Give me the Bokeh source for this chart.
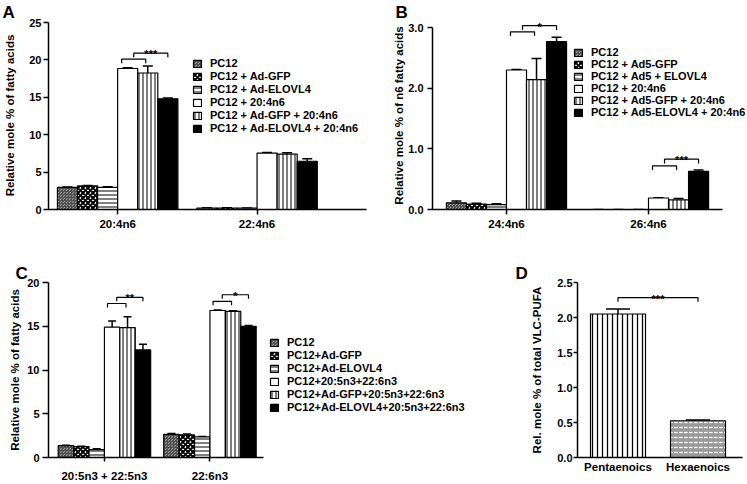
from bokeh.plotting import figure
from bokeh.layouts import column, row
from bokeh.models import (Range1d, FixedTicker, NumeralTickFormatter, Whisker, TeeHead,
                          ColumnDataSource)
from bokeh.core.properties import value
from bokeh.embed import file_html
from bokeh.resources import INLINE

FONT = "Liberation Sans"

# ---------------- data ----------------
A_groups = ["20:4n6", "22:4n6"]
A_labels = ["PC12", "PC12 + Ad-GFP", "PC12 + Ad-ELOVL4", "PC12 + 20:4n6",
            "PC12 + Ad-GFP + 20:4n6", "PC12 + Ad-ELOVL4 + 20:4n6"]
A_vals = [[2.95, 0.20], [3.15, 0.20], [2.95, 0.18], [18.85, 7.55], [18.25, 7.40], [14.80, 6.45]]
A_errs = [[0.05, 0.02], [0.05, 0.02], [0.10, 0.02], [0.10, 0.08], [0.95, 0.20], [0.10, 0.35]]
A_yticks = [0, 5, 10, 15, 20, 25]
A_sig = [(0, 20.1, 20.9, "***")]

B_groups = ["24:4n6", "26:4n6"]
B_labels = ["PC12", "PC12 + Ad5-GFP", "PC12 + Ad5 + ELOVL4", "PC12 + 20:4n6",
            "PC12 + Ad5-GFP + 20:4n6", "PC12 + Ad5-ELOVL4 + 20:4n6"]
B_vals = [[0.11, 0.0], [0.09, 0.0], [0.08, 0.0], [2.30, 0.19], [2.14, 0.16], [2.77, 0.63]]
B_errs = [[0.03, 0.0], [0.015, 0.0], [0.015, 0.0], [0.01, 0.005], [0.35, 0.02], [0.07, 0.02]]
B_yticks = [0.0, 1.0, 2.0, 3.0]
B_sig = [(0, 2.93, 3.03, "*"), (1, 0.72, 0.83, "***")]

C_groups = ["20:5n3 + 22:5n3", "22:6n3"]
C_labels = ["PC12", "PC12+Ad-GFP", "PC12+Ad-ELOVL4", "PC12+20:5n3+22:6n3",
            "PC12+Ad-GFP+20:5n3+22:6n3", "PC12+Ad-ELOVL4+20:5n3+22:6n3"]
C_vals = [[1.35, 2.65], [1.25, 2.60], [0.90, 2.35], [14.90, 16.80], [14.85, 16.70], [12.30, 15.00]]
C_errs = [[0.05, 0.10], [0.05, 0.08], [0.10, 0.06], [0.70, 0.06], [1.25, 0.06], [0.65, 0.08]]
C_yticks = [0, 5, 10, 15, 20]
C_sig = [(0, 17.6, 18.3, "**"), (1, 17.85, 18.6, "*")]

D_groups = ["Pentaenoics", "Hexaenoics"]
D_vals = [2.05, 0.525]
D_errs = [0.07, 0.012]
D_yticks = [0.0, 0.5, 1.0, 1.5, 2.0, 2.5]
D_sig = (2.285, "***")

# ---------------- styles ----------------
STYLES = [
    dict(fill_color="#a0a0a0", hatch_pattern="criss_cross", hatch_color="#505050", hatch_scale=3, hatch_weight=1),
    dict(fill_color="white", hatch_pattern="diagonal_cross", hatch_color="black", hatch_scale=5, hatch_weight=2),
    dict(fill_color="white", hatch_pattern="horizontal_line", hatch_color="black", hatch_scale=4, hatch_weight=1),
    dict(fill_color="white"),
    dict(fill_color="white", hatch_pattern="vertical_line", hatch_color="black", hatch_scale=4, hatch_weight=1),
    dict(fill_color="black"),
]


def make_fig(width, height, xr, yr, l, r, t, b, letter, letter_offset):
    p = figure(width=width, height=height, x_range=Range1d(*xr), y_range=Range1d(*yr),
               output_backend="svg", toolbar_location=None,
               min_border_left=l, min_border_right=r, min_border_top=t, min_border_bottom=b)
    p.xgrid.visible = False
    p.ygrid.visible = False
    p.outline_line_color = None
    p.title.text = letter
    p.title.text_font = FONT
    p.title.text_font_size = "17px"
    p.title.text_font_style = "bold"
    p.title.text_color = "black"
    p.title.align = "left"
    p.title.offset = letter_offset
    p.title.standoff = 0
    for ax in (p.xaxis[0], p.yaxis[0]):
        ax.axis_line_width = 1.5
        ax.major_tick_line_width = 1.5
        ax.minor_tick_line_color = None
        ax.major_tick_in = 0
        ax.major_label_text_font = FONT
        ax.major_label_text_font_style = "bold"
        ax.major_label_text_color = "black"
        ax.axis_label_text_font = FONT
        ax.axis_label_text_font_style = "bold"
        ax.axis_label_text_color = "black"
    return p


def style_axes(p, ylabel, yticks, xlabels, yfmt=None, ylab_so=5, ytick_out=5, ytl_so=2,
               ylab_size="11.5px", xtick_out=5, xlab_so=3, xlab_size="11.5px", xbounds=None):
    ya = p.yaxis[0]
    ya.ticker = FixedTicker(ticks=yticks)
    if yfmt:
        ya.formatter = NumeralTickFormatter(format=yfmt)
    ya.axis_label = ylabel
    ya.axis_label_text_font_size = ylab_size
    ya.axis_label_standoff = ylab_so
    ya.major_tick_out = ytick_out
    ya.major_label_standoff = ytl_so
    ya.major_label_text_font_size = "11px"
    ya.bounds = (yticks[0], yticks[-1])
    xa = p.xaxis[0]
    xa.ticker = FixedTicker(ticks=list(range(len(xlabels))))
    xa.major_label_overrides = {i: lab for i, lab in enumerate(xlabels)}
    xa.major_tick_out = xtick_out
    xa.major_label_standoff = xlab_so
    xa.major_label_text_font_size = xlab_size
    if xbounds:
        xa.bounds = xbounds


def draw_bars(p, vals, errs, labels, w, cap):
    n = len(vals)
    for k in range(n):
        xs = [g + (k - (n - 1) / 2) * w for g in range(len(vals[k]))]
        src = ColumnDataSource(dict(x=xs, top=vals[k],
                                    up=[v + e for v, e in zip(vals[k], errs[k])]))
        p.add_layout(Whisker(source=src, base="x", lower="top", upper="up", dimension="height",
                             line_width=1.5, lower_head=None,
                             upper_head=TeeHead(size=cap, line_width=1.5)))
        p.vbar(x="x", top="top", bottom=0, width=w, source=src, line_color="black",
               line_width=1.2, legend_label=labels[k], **STYLES[k])


def bracket(p, x0, x1, y, leg):
    p.line([x0, x0, x1, x1], [y - leg, y, y, y - leg], line_color="black", line_width=1.2)


def stars(p, x, y, txt):
    p.text(x=[x], y=[y], text=[txt], text_align="center", text_baseline="alphabetic",
           y_offset=1, text_font=value(FONT), text_font_size="11px", text_font_style="bold",
           text_color="black")


def sig6(p, sig, w, leg):
    for g, y1, y2, txt in sig:
        c3, c4, c5 = g + 0.5 * w, g + 1.5 * w, g + 2.5 * w
        l1, r1 = c3 - 0.3 * w, c4 - 0.1 * w
        bracket(p, l1, r1, y1, leg)
        m = (l1 + r1) / 2
        bracket(p, m, c5, y2, leg)
        stars(p, (m + c5) / 2, y2, txt)


def style_legend(p, x, y, spacing):
    lg = p.legend[0]
    lg.location = (x, y)
    lg.padding = 0
    lg.margin = 0
    lg.border_line_color = None
    lg.background_fill_alpha = 0
    lg.glyph_width = 10
    lg.glyph_height = 9
    lg.label_height = 9
    lg.spacing = spacing
    lg.label_standoff = 8
    lg.label_text_font = FONT
    lg.label_text_font_size = "11px"
    lg.label_text_font_style = "bold"
    lg.label_text_color = "black"


# ---------------- panel A ----------------
wA = 0.144
pA = make_fig(374, 244, (-0.496, 1.785), (0, 25.134), 48, 8, 13, 35, "A", -46)
style_axes(pA, "Relative mole % of fatty acids", A_yticks, A_groups, ylab_so=10)
draw_bars(pA, A_vals, A_errs, A_labels, wA, 10)
sig6(pA, A_sig, wA, 0.55)
style_legend(pA, 144, 75, 1)

# ---------------- panel B ----------------
wB = 0.141
pB = make_fig(373, 244, (-0.521, 1.683), (0, 3.0995), 58, 2, 13, 35, "B", -37)
style_axes(pB, "Relative mole % of n6 fatty acids", B_yticks, B_groups, yfmt="0.0",
           ylab_so=0, ytl_so=4, xbounds=(-0.521, 1.521))
draw_bars(pB, B_vals, B_errs, B_labels, wB, 10)
sig6(pB, B_sig, wB, 0.07)
style_legend(pB, 141, 91, 0)

# ---------------- panel C ----------------
wC = 0.146
pC = make_fig(514, 240, (-0.53, 3.81), (0, 20), 48, 8, 38, 26, "C", -33)
style_axes(pC, "Relative mole % of fatty acids", C_yticks, C_groups, ylab_so=3,
           ytick_out=6, ytl_so=3, xtick_out=4, xlab_so=8, xbounds=(-0.53, 1.507))
draw_bars(pC, C_vals, C_errs, C_labels, wC, 8)
sig6(pC, C_sig, wC, 0.45)
style_legend(pC, 221, 44, 1)

# ---------------- panel D ----------------
wD = 0.6875
pD = make_fig(233, 240, (-0.506, 1.556), (0, 2.5), 63, 5, 38, 26, "D", -62)
style_axes(pD, "Rel. mole % of total VLC-PUFA", D_yticks, D_groups, yfmt="0.0", ylab_so=11,
           ytick_out=4, ytl_so=1, xtick_out=0, xlab_so=3, xbounds=(-0.506, 1.556))
srcD = ColumnDataSource(dict(x=list(range(len(D_vals))), top=D_vals,
                             up=[v + e for v, e in zip(D_vals, D_errs)],
                             fill=["white", "#9a9a9a"],
                             hatch=["vertical_line", "horizontal_dash"],
                             hcol=["black", "white"]))
pD.add_layout(Whisker(source=srcD, base="x", lower="top", upper="up", dimension="height",
                      line_width=1.5, lower_head=None, upper_head=TeeHead(size=24, line_width=1.5)))
pD.vbar(x="x", top="top", bottom=0, width=wD, source=srcD, line_color="black", line_width=1.2,
        fill_color="fill", hatch_pattern="hatch", hatch_color="hcol", hatch_scale=5, hatch_weight=1.3)
bracket(pD, 0, 1, D_sig[0], 0.06)
stars(pD, 0.5, D_sig[0], D_sig[1])

layout = column(row(pA, pB), row(pC, pD))
open("out.html", "w").write(file_html(layout, INLINE))
